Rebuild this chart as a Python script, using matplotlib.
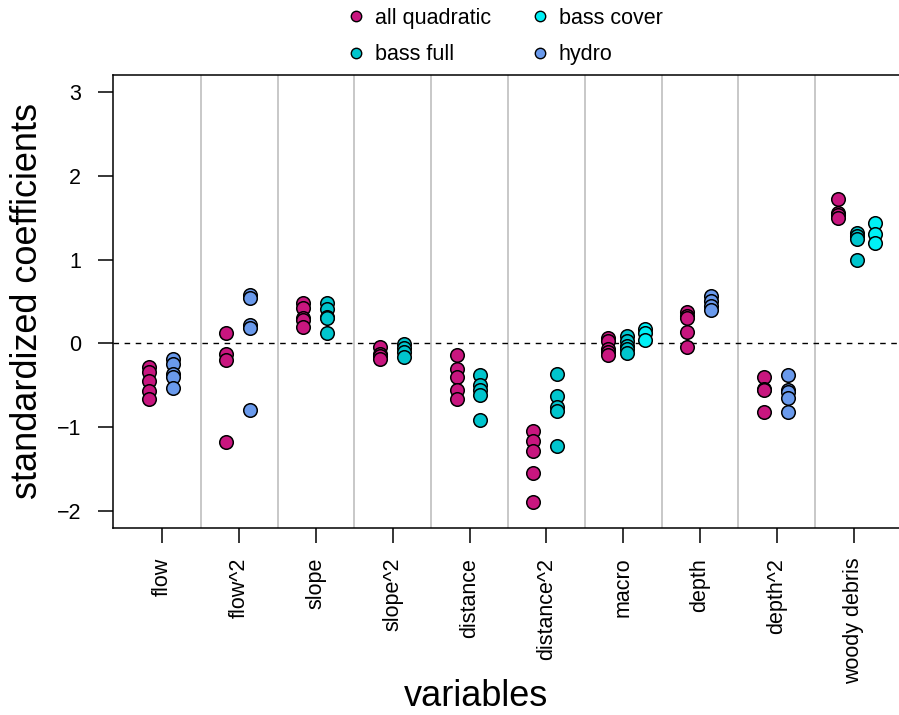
import matplotlib.pyplot as plt
from matplotlib.lines import Line2D

plt.rcParams["font.family"] = ["Liberation Sans", "DejaVu Sans"]

CATEGORIES = ["flow", "flow^2", "slope", "slope^2", "distance", "distance^2",
              "macro", "depth", "depth^2", "woody debris"]

MODELS = ["all quadratic", "bass full", "bass cover", "hydro"]
COLORS = {
    "all quadratic": "#C8167F",
    "bass full": "#00C5CD",
    "bass cover": "#00F0F5",
    "hydro": "#6A9AEC",
}

# standardized coefficients per variable (None = variable not in that model set)
all_quadratic = [
    [-0.28, -0.34, -0.45, -0.57, -0.66],
    [0.125, -0.12, -0.20, -1.17],
    [0.48, 0.42, 0.30, 0.28, 0.20],
    [-0.04, -0.12, -0.145, -0.18],
    [-0.14, -0.30, -0.40, -0.55, -0.66],
    [-1.045, -1.16, -1.28, -1.55, -1.89],
    [0.07, 0.03, -0.065, -0.10, -0.14],
    [0.37, 0.33, 0.30, 0.14, -0.045],
    [-0.40, -0.54, -0.55, -0.82],
    [1.72, 1.56, 1.53, 1.50],
]
bass_full = [
    None,
    None,
    [0.48, 0.41, 0.32, 0.30, 0.13],
    [-0.01, -0.05, -0.10, -0.16],
    [-0.375, -0.50, -0.56, -0.62, -0.91],
    [-0.36, -0.63, -0.76, -0.81, -1.22],
    [0.085, 0.03, -0.03, -0.07, -0.11],
    None,
    None,
    [1.32, 1.28, 1.24, 0.99],
]
bass_cover = [
    None, None, None, None, None, None,
    [0.17, 0.13, 0.045],
    None, None,
    [1.43, 1.30, 1.20],
]
hydro = [
    [-0.18, -0.24, -0.36, -0.40, -0.53],
    [0.58, 0.54, 0.22, 0.19, -0.79],
    None, None, None, None, None,
    [0.57, 0.51, 0.45, 0.40],
    [-0.375, -0.55, -0.58, -0.65, -0.82],
    None,
]
SERIES = dict(zip(MODELS, [all_quadratic, bass_full, bass_cover, hydro]))

# horizontal spread of the model groups inside one variable slot
OFFSETS = {2: [-0.17, 0.14], 3: [-0.2, 0.05, 0.28]}

fig = plt.figure(figsize=(8.99, 7.15), dpi=100)
W, H = 899, 715
ax = fig.add_axes([113 / W, 1 - 528 / H, (912 - 113) / W, (528 - 75) / H])

for i, cat in enumerate(CATEGORIES):
    present = [m for m in MODELS if SERIES[m][i] is not None]
    for off, m in zip(OFFSETS[len(present)], present):
        vals = SERIES[m][i]
        ax.scatter([i + off] * len(vals), vals, s=95, color=COLORS[m],
                   edgecolor="black", linewidth=1.1, zorder=3)

for k in range(len(CATEGORIES) - 1):
    ax.axvline(k + 0.5, color="#C4C4C4", linewidth=1.3, zorder=1)
ax.axhline(0, color="black", linestyle=(0, (4, 4)), linewidth=1.0, zorder=2)

ax.set_xlim(-0.643, 9.76)
ax.set_ylim(-2.2, 3.2)
ax.set_xticks(range(len(CATEGORIES)))
ax.set_xticklabels(CATEGORIES, rotation=90, fontsize=15.5)
ax.set_yticks([-2, -1, 0, 1, 2, 3])
ax.set_yticklabels(["\u22122", "\u22121", "0", "1", "2", "3"], fontsize=15.5)
ax.tick_params(length=10.5, width=1.1, pad=11)
ax.tick_params(axis="y", pad=12.5)
ax.spines["right"].set_visible(False)
for sp in ("left", "top", "bottom"):
    ax.spines[sp].set_linewidth(1.1)

# axis titles placed in figure pixels
fig.text(28 / W, 1 - 301 / H, "standardized coefficients", fontsize=26,
         rotation=90, ha="center", va="center")
fig.text(476 / W, 1 - 697 / H, "variables", fontsize=26,
         ha="center", va="center")

handles = [Line2D([], [], marker="o", linestyle="none", markersize=7.5,
                  markerfacecolor=COLORS[m], markeredgecolor="black",
                  markeredgewidth=1.0) for m in MODELS]
fig.legend(handles, MODELS, loc="upper left", bbox_to_anchor=(346 / W, 1 - 8 / H),
           ncol=2, frameon=False, fontsize=15.5, handlelength=0.9,
           handletextpad=0.45, columnspacing=1.8, labelspacing=0.7,
           borderpad=0, borderaxespad=0)

fig.savefig("out.png", dpi=100)
